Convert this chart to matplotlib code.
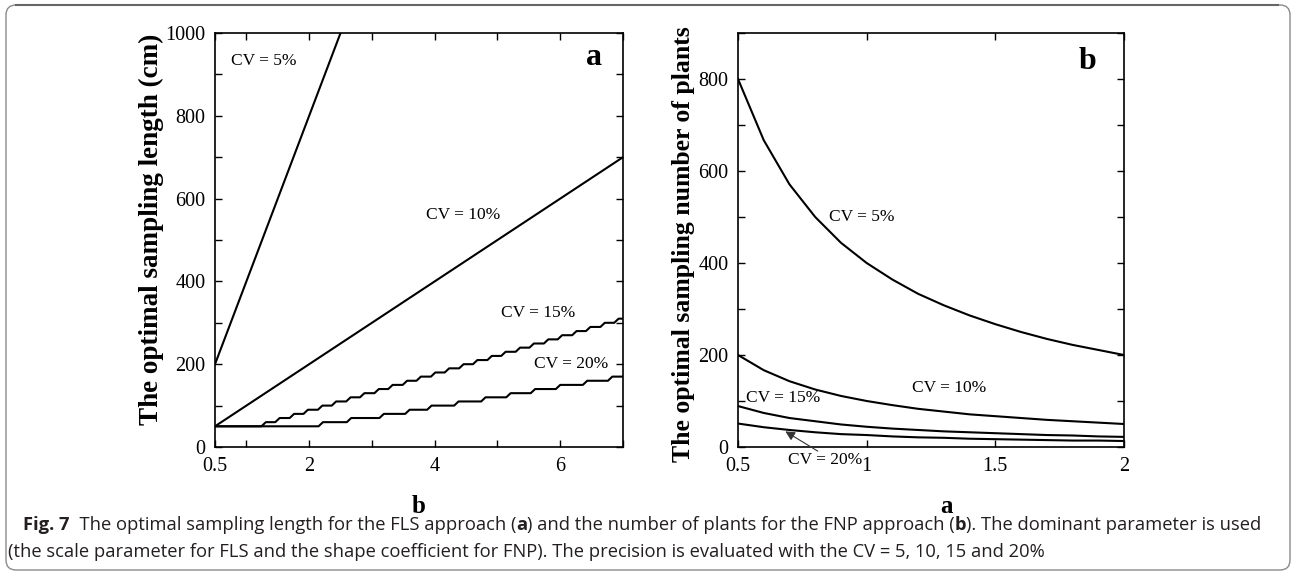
import matplotlib
matplotlib.use("Agg")
import matplotlib.pyplot as plt
from matplotlib.patches import FancyBboxPatch
from matplotlib.transforms import IdentityTransform

# ---------------- data ----------------
# Panel a (FLS): x = scale parameter b
b_line = [0.5, 7.0]
fls_cv5 = [200, 2800]
fls_cv10 = [50, 700]
fls_cv15_base = 50
fls_cv15_breaks = [1.24, 1.46, 1.69, 1.91, 2.14, 2.36, 2.59, 2.81, 3.04, 3.26, 3.49, 3.71, 3.94,
                   4.16, 4.39, 4.61, 4.84, 5.06, 5.29, 5.51, 5.74, 5.96, 6.19, 6.41, 6.64, 6.86]
fls_cv15_levels = [60, 70, 80, 90, 100, 110, 120, 130, 140, 150, 160, 170, 180,
                   190, 200, 210, 220, 230, 240, 250, 260, 270, 280, 290, 300, 310]
fls_cv20_base = 50
fls_cv20_breaks = [2.15, 2.60, 3.12, 3.53, 3.88, 4.31, 4.74, 5.14, 5.53, 5.93, 6.36, 6.76]
fls_cv20_levels = [60, 70, 80, 90, 100, 110, 120, 130, 140, 150, 160, 170]

# Panel b (FNP): x = shape coefficient a
a_vals = [0.5, 0.6, 0.7, 0.8, 0.9, 1.0, 1.1, 1.2, 1.3, 1.4, 1.5, 1.6, 1.7, 1.8, 1.9, 2.0]
fnp_cv5 = [800, 667, 571, 500, 444, 400, 364, 333, 308, 286, 267, 250, 235, 222, 211, 200]
fnp_cv10 = [200, 167, 143, 125, 111, 100, 91, 83, 77, 71, 67, 63, 59, 56, 53, 50]
fnp_cv15 = [89, 74, 63, 56, 49, 44, 40, 37, 34, 32, 30, 28, 26, 25, 23, 22]
fnp_cv20 = [51, 43, 37, 32, 28, 26, 23, 21, 20, 18, 17, 16, 15, 14, 14, 13]

a_xticks = [0.5, 1, 2, 3, 4, 5, 6, 7]
a_xticklabels = ["0.5", "", "2", "", "4", "", "6", ""]
b_xticks = [0.5, 1, 1.5, 2]
b_xticklabels = ["0.5", "1", "1.5", "2"]

caption1 = [("Fig. 7", True), ("  The optimal sampling length for the FLS approach (", False), ("a", True),
            (") and the number of plants for the FNP approach (", False), ("b", True),
            ("). The dominant parameter is used", False)]
caption2 = [("(the scale parameter for FLS and the shape coefficient for FNP). The precision is evaluated with the CV = 5, 10, 15 and 20%", False)]

# ---------------- figure ----------------
W, H = 1292, 573
fig = plt.figure(figsize=(W / 100, H / 100), dpi=100)
serif = "Liberation Serif"
LW = 1.5

def px_axes(x0, x1, y0, y1):
    return fig.add_axes([x0 / W, (H - y1) / H, (x1 - x0) / W, (y1 - y0) / H])

def step_xy(x0, x1, base, breaks, levels, ramp=0.07):
    xs, ys = [x0], [base]
    prev = base
    for bk, lv in zip(breaks, levels):
        xs += [bk, bk + ramp]
        ys += [prev, lv]
        prev = lv
    xs.append(x1)
    ys.append(prev)
    return xs, ys

def style_axes(ax):
    ax.tick_params(direction="in", length=5, width=1.0, top=True, right=True,
                   labelsize=14.5, pad=7)
    for lab in ax.get_xticklabels() + ax.get_yticklabels():
        lab.set_fontfamily(serif)
    for s in ax.spines.values():
        s.set_linewidth(1.2)

# Panel a
ax1 = px_axes(215, 623, 33, 447)
ax1.plot(b_line, fls_cv5, color="black", lw=LW)
ax1.plot(b_line, fls_cv10, color="black", lw=LW)
xs, ys = step_xy(0.5, 7.0, fls_cv15_base, fls_cv15_breaks, fls_cv15_levels)
ax1.plot(xs, ys, color="black", lw=LW)
xs, ys = step_xy(0.5, 7.0, fls_cv20_base, fls_cv20_breaks, fls_cv20_levels)
ax1.plot(xs, ys, color="black", lw=LW)
ax1.set_xlim(0.5, 7)
ax1.set_ylim(0, 1000)
ax1.set_xticks(a_xticks)
ax1.set_xticklabels(a_xticklabels)
ax1.set_yticks(range(0, 1001, 100))
ax1.set_yticklabels([str(v) if v % 200 == 0 else "" for v in range(0, 1001, 100)])
style_axes(ax1)
ax1.set_ylabel("The optimal sampling length (cm)", fontfamily=serif, fontweight="bold", fontsize=19.5)
ax1.yaxis.set_label_coords(-0.125, 0.525)
ax1.set_xlabel("b", fontfamily=serif, fontweight="bold", fontsize=18)
ax1.xaxis.set_label_coords(0.5, -0.116)
ax1.text(0.93, 0.94, "a", transform=ax1.transAxes, fontfamily=serif, fontweight="bold",
         fontsize=23, ha="center", va="center")
for (x, y, t) in [(1.27, 932, "CV = 5%"), (4.45, 560, "CV = 10%"), (5.64, 323, "CV = 15%"),
                  (6.17, 200, "CV = 20%")]:
    ax1.text(x, y, t, fontfamily=serif, fontsize=12.5, ha="center", va="center")

# Panel b
ax2 = px_axes(738, 1124, 33, 447)
for series in (fnp_cv5, fnp_cv10, fnp_cv15, fnp_cv20):
    ax2.plot(a_vals, series, color="black", lw=LW)
ax2.set_xlim(0.5, 2)
ax2.set_ylim(0, 900)
ax2.set_xticks(b_xticks)
ax2.set_xticklabels(b_xticklabels)
ax2.set_yticks(range(0, 901, 100))
ax2.set_yticklabels([str(v) if v % 200 == 0 else "" for v in range(0, 901, 100)])
style_axes(ax2)
ax2.set_ylabel("The optimal sampling number of plants", fontfamily=serif, fontweight="bold", fontsize=18.5)
ax2.yaxis.set_label_coords(-0.112, 0.49)
ax2.set_xlabel("a", fontfamily=serif, fontweight="bold", fontsize=18)
ax2.xaxis.set_label_coords(0.54, -0.116)
ax2.text(0.906, 0.93, "b", transform=ax2.transAxes, fontfamily=serif, fontweight="bold",
         fontsize=23, ha="center", va="center")
for (x, y, t) in [(0.98, 500, "CV = 5%"), (1.32, 128, "CV = 10%"), (0.675, 106, "CV = 15%")]:
    ax2.text(x, y, t, fontfamily=serif, fontsize=12.5, ha="center", va="center")
ax2.text(0.838, -29, "CV = 20%", fontfamily=serif, fontsize=12.5, ha="center", va="center",
         clip_on=False)
ax2.annotate("", xy=(0.684, 34), xytext=(0.81, -9), textcoords="data",
             annotation_clip=False,
             arrowprops=dict(arrowstyle="-|>", color="#333333", lw=0.8,
                             mutation_scale=14, shrinkA=0, shrinkB=0))

# Caption (pieces placed one after another)
fig.canvas.draw()
renderer = fig.canvas.get_renderer()
cap_font = "Open Sans"

def place_line(pieces, x0, y, size):
    x = x0
    for txt, bold in pieces:
        t = fig.text(x / W, (H - y) / H, txt, fontfamily=cap_font, fontsize=size,
                     fontweight="bold" if bold else "normal", ha="left", va="center",
                     color="#231f20")
        bb = t.get_window_extent(renderer=renderer)
        x += bb.width
    return x

# Fit line 1 width to the reference
target = 1257 - 23
size0 = 12
tmp = [fig.text(0, 0, txt, fontfamily=cap_font, fontsize=size0,
                fontweight="bold" if bold else "normal") for txt, bold in caption1]
wsum = sum(t.get_window_extent(renderer=renderer).width for t in tmp)
for t in tmp:
    t.remove()
size = size0 * target / wsum
place_line(caption1, 23, 525, size)
place_line(caption2, 8, 552, size)

# Rounded frame
frame = FancyBboxPatch((6, 3), W - 8, H - 8, boxstyle="round,pad=0,rounding_size=10",
                       transform=IdentityTransform(), fill=False, edgecolor="#8a8a8a",
                       lw=1.0)
fig.patches.append(frame)
fig.add_artist(plt.Line2D([16 / W, (W - 14) / W], [(H - 5) / H] * 2, color="#666666", lw=1.5))

fig.savefig("out.png", dpi=100)
